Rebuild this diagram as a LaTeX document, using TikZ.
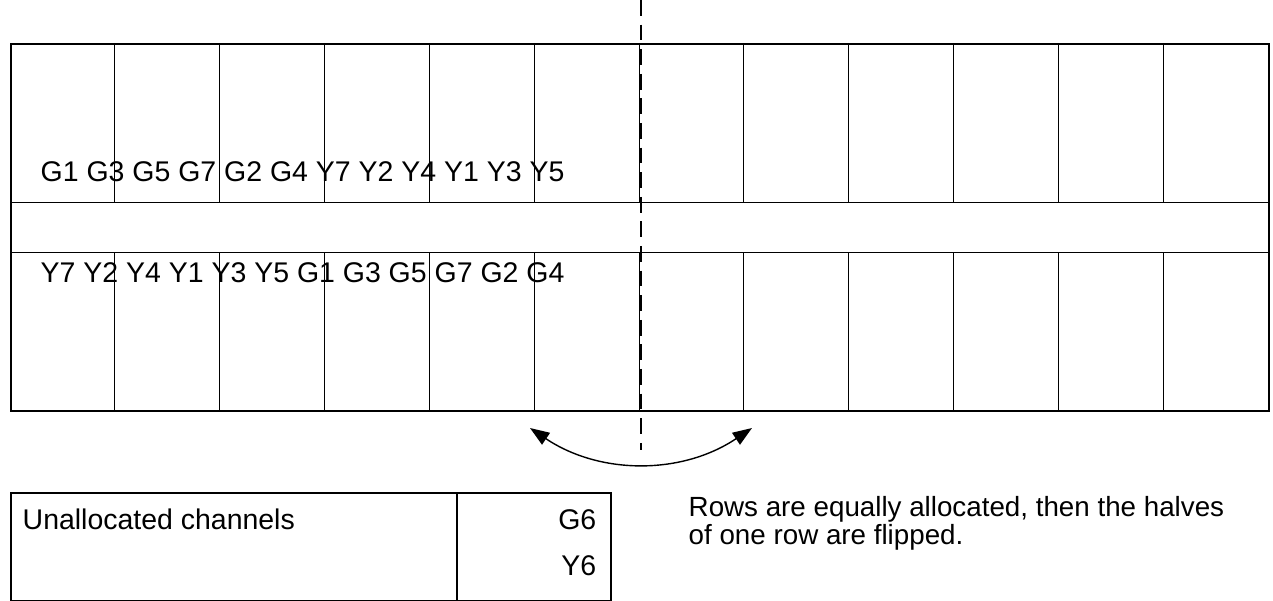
\documentclass[tikz,border=0pt]{standalone}
\usepackage{fontspec}
\setmainfont{Liberation Sans}
\usetikzlibrary{arrows.meta}
\begin{document}
\begin{tikzpicture}[x=0.02cm, y=-0.02cm, thick,
    box/.style = {draw, line width=1.4pt},
    cell/.style = {draw, line width=0.5pt},
    lbl/.style = {font=\fontsize{16.2}{14.5}\selectfont, inner sep=0pt},
    >={Triangle[length=11pt, width=8pt]}]
    \useasboundingbox (0,0) rectangle (1273,601);

    % main grid
    \draw[cell] (10,202) -- (1268,202) (10,252) -- (1268,252);
    \foreach \i in {1,...,11} {
        \draw[cell] (10+\i*104.83,43) -- (10+\i*104.83,202);
        \draw[cell] (10+\i*104.83,252) -- (10+\i*104.83,410);
    }
    \node[box, minimum width=25.16cm, minimum height=7.34cm, anchor=north west] (grid) at (10,43) {};
    \draw[line width=1.5pt, dash pattern=on 9pt off 5pt] (641,0) -- (641,450);

    \node[lbl, anchor=base west] (top) at (40,182) {G1 G3 G5 G7 G2 G4 Y7 Y2 Y4 Y1 Y3 Y5};
    \node[lbl, anchor=base west] (bottom) at (40,282) {Y7 Y2 Y4 Y1 Y3 Y5 G1 G3 G5 G7 G2 G4};

    % flip arrow
    \coordinate (left) at (530,428);
    \coordinate (right) at (752,428);
    \draw[<->, line width=0.8pt] (left) .. controls (600,475) and (682,475) .. (right);

    % unallocated box
    \node[box, minimum width=12cm, minimum height=2.16cm, anchor=north west] (unalloc) at (10,492) {};
    \draw[box] (457,492) -- (457,600);
    \node[lbl, anchor=base west] (uname) at (22,529) {Unallocated channels};
    \node[lbl, anchor=base east] (g6) at (597,529) {G6};
    \node[lbl, anchor=base east] (y6) at (597,575) {Y6};

    \node[lbl, font=\fontsize{15.8}{14.5}\selectfont, anchor=north west, align=left] (note) at (688,496) {Rows are equally allocated, then the halves\\of one row are flipped.};
\end{tikzpicture}
\end{document}
